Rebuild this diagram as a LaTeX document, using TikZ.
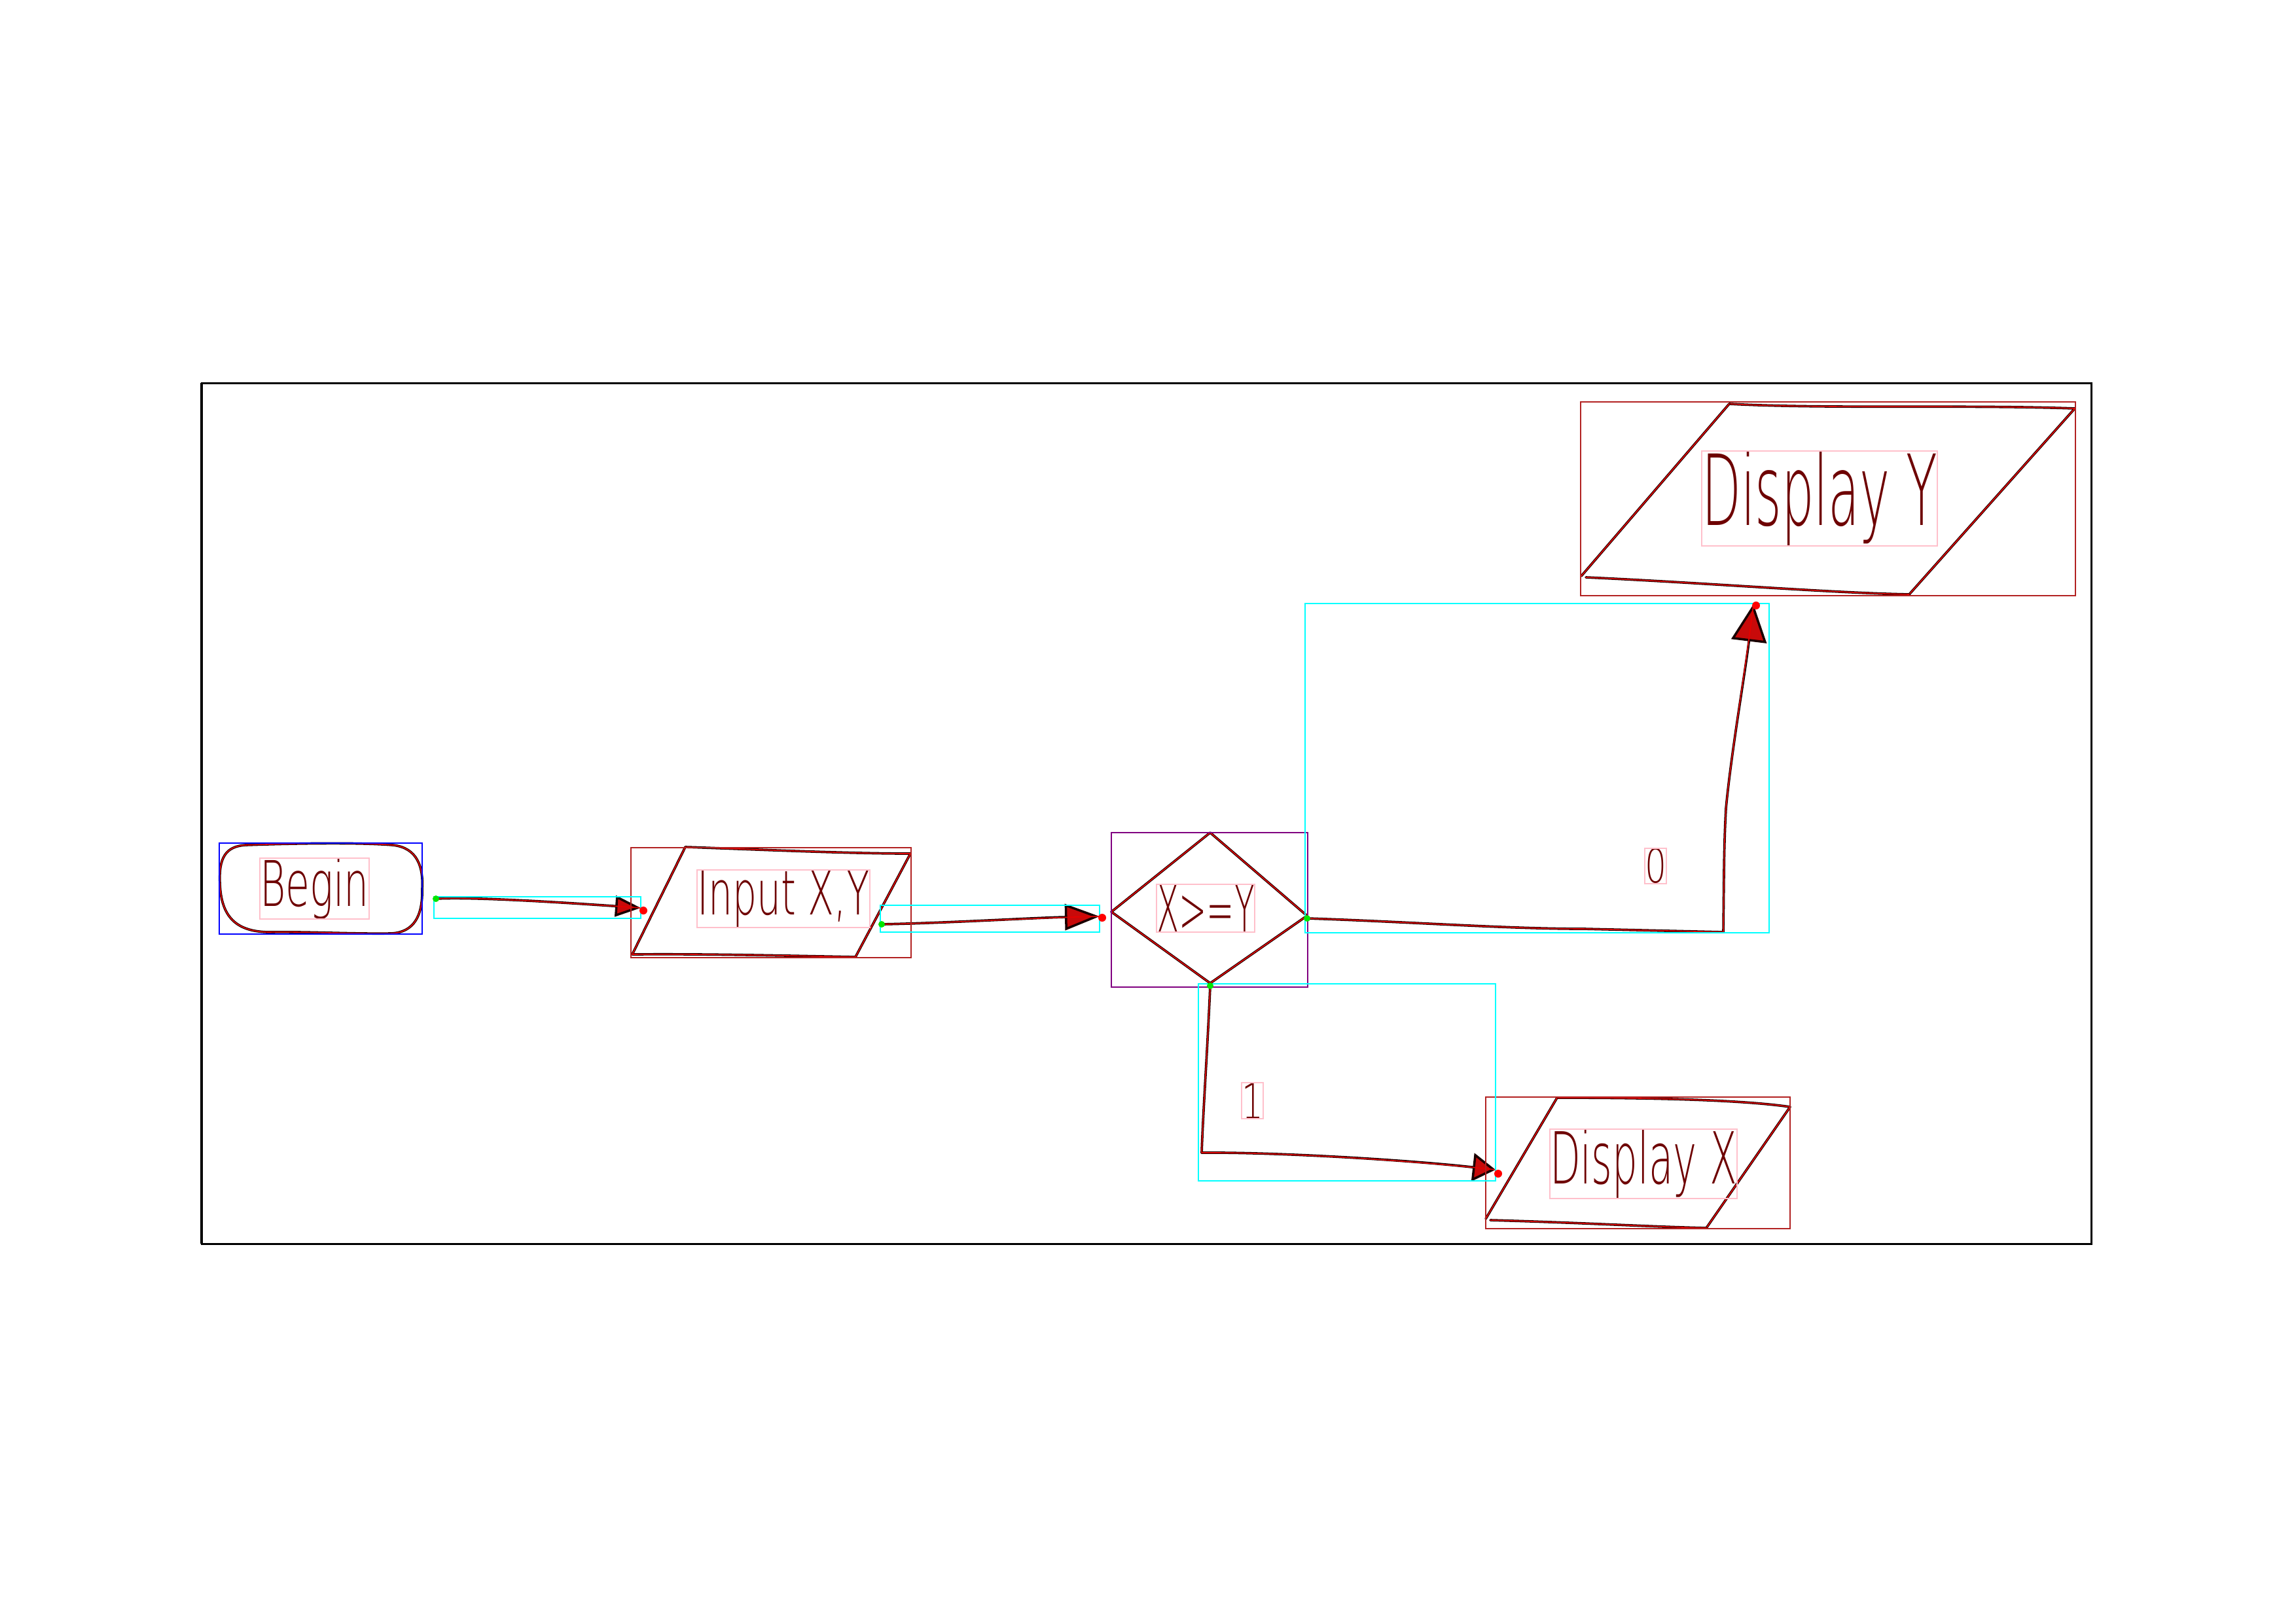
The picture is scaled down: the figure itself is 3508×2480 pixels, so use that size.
\documentclass[tikz,border=0pt]{standalone}
\usetikzlibrary{arrows.meta}
\usepackage{graphicx}
\usepackage{fontspec}
% thin monoline-like face for the handwritten labels
\IfFontExistsTF{FiraSans-Thin.otf}
  {\newfontfamily\handfont{FiraSans-Thin.otf}}
  {\IfFontExistsTF{DejaVuSans-ExtraLight.ttf}
    {\newfontfamily\handfont{DejaVuSans-ExtraLight.ttf}}
    {\newfontfamily\handfont{Fira Sans}}}
\definecolor{inkdark}{RGB}{25,0,0}
\definecolor{inkred}{RGB}{230,0,0}
\definecolor{tipfill}{RGB}{200,10,10}
\definecolor{textink}{RGB}{110,0,0}
\definecolor{boxbrown}{RGB}{178,34,34}
\definecolor{boxpink}{RGB}{255,192,203}
\definecolor{boxcyan}{RGB}{0,255,255}
\definecolor{boxblue}{RGB}{0,0,255}
\definecolor{boxpurple}{RGB}{128,0,128}
\definecolor{dotgreen}{RGB}{0,230,0}
\definecolor{dotred}{RGB}{255,0,0}
\newcommand{\handtext}[3]{\resizebox*{#1}{#2}{\handfont #3}}

\begin{document}
\begin{tikzpicture}[x=0.1mm,y=-0.1mm,
  ink/.style={draw=inkdark,line width=1.05pt,line cap=round,line join=round,
    postaction={draw=inkred,line width=0.45pt,arrows=-}},
  tipped/.style 2 args={-{Triangle[length=#1,width=#2,fill=tipfill,line width=1pt]}},
  lbl/.style={inner sep=0pt,text=textink},
  hull/.style={line width=0.4pt},
  startdot/.style={fill=dotgreen,draw=none},
  enddot/.style={fill=dotred,draw=none}]

% page extent
\useasboundingbox (0,0) rectangle (3508,2480);
\fill[white] (0,0) rectangle (3508,2480);

% outer frame
\draw[black,line width=0.85pt] (308,585) rectangle (3195,1900);
\draw[black,line width=1.3pt] (308,585) -- (308,1900);

% ---------- shapes ----------
% Begin terminator
\draw[ink] (336,1350) .. controls (334,1310) and (345,1293) .. (375,1291)
  .. controls (460,1288) and (550,1287) .. (600,1291)
  .. controls (638,1295) and (647,1325) .. (645,1358)
  .. controls (646,1400) and (632,1424) .. (598,1426)
  .. controls (540,1427) and (470,1423) .. (410,1424)
  .. controls (360,1423) and (338,1400) .. cycle;

% Input parallelogram
\draw[ink] (1047,1294) .. controls (1140,1297) and (1290,1304) .. (1391,1304)
  -- (1307,1462)
  .. controls (1200,1460) and (1080,1457) .. (966,1458) -- cycle;

% decision diamond
\draw[ink] (1849,1272) -- (1997,1399) -- (1849,1502) -- (1698,1393) -- cycle;

% Display Y parallelogram
\draw[ink] (2642,617) .. controls (2790,625) and (3000,618) .. (3170,624)
  -- (2917,908);
\draw[ink] (2423,882) .. controls (2600,890) and (2800,906) .. (2917,908);
\draw[ink] (2642,617) -- (2416,880);

% Display X parallelogram
\draw[ink] (2379,1677) .. controls (2520,1677) and (2660,1680) .. (2735,1691)
  -- (2607,1876);
\draw[ink] (2277,1864) .. controls (2420,1868) and (2520,1874) .. (2607,1876);
\draw[ink] (2379,1677) -- (2270,1862);

% ---------- texts ----------
\node[lbl] (tBegin) at (480.5,1357.5) {\handtext{16.7mm}{9.3mm}{Begin}};
\node[lbl] (tInput) at (1197,1373) {\handtext{26.4mm}{8.8mm}{Input X,Y}};
\node[lbl] (tCond)  at (1842,1387.5) {\handtext{15mm}{7.3mm}{X>=Y}};
\node[lbl] (tDispY) at (2780,761.5) {\handtext{36mm}{14.5mm}{Display Y}};
\node[lbl] (tDispX) at (2511,1778) {\handtext{28.6mm}{10.6mm}{Display X}};
\node[lbl] (tZero)  at (2529.5,1323) {\handtext{3.3mm}{5.4mm}{0}};
\node[lbl] (tOne)   at (1913.5,1681.5) {\handtext{3.3mm}{5.5mm}{1}};

% ---------- connector end points ----------
\coordinate (a1s) at (666,1373);  \coordinate (a1e) at (979,1387);
\coordinate (a2s) at (1347,1412); \coordinate (a2e) at (1680,1400);
\coordinate (a3s) at (1997,1403); \coordinate (a3c) at (2633,1424);
\coordinate (a3e) at (2679,923);
\coordinate (a4s) at (1849,1506); \coordinate (a4c) at (1836,1761);
\coordinate (a4e) at (2285,1787);

% ---------- connectors ----------
\draw[ink,tipped={3.9mm}{3.2mm}] (a1s) .. controls (720,1370) and (850,1378) .. (a1e);
\draw[ink,tipped={5.3mm}{4mm}] (a2s) .. controls (1450,1410) and (1580,1402) .. (a2e);
\draw[ink,tipped={5.7mm}{5.4mm}] (a3s) .. controls (2150,1408) and (2300,1419) .. (2420,1419)
  -- (a3c) .. controls (2634,1330) and (2634,1290) .. (2637,1235)
  .. controls (2645,1150) and (2666,1030) .. (a3e);
\draw[ink,tipped={3.5mm}{4.3mm}] (a4s) .. controls (1845,1600) and (1838,1700) .. (a4c)
  .. controls (1950,1760) and (2150,1772) .. (a4e);

% ---------- region outlines ----------
\draw[hull,boxblue] (335,1288) rectangle (645,1427);
\draw[hull,boxbrown] (964,1295) rectangle (1392,1463);
\draw[hull,boxbrown] (2415,614) rectangle (3171,910);
\draw[hull,boxbrown] (2270,1676) rectangle (2735,1877);
\draw[hull,boxpurple] (1698,1272) rectangle (1998,1508);
\draw[hull,boxcyan] (663,1370) rectangle (979,1403);
\draw[hull,boxcyan] (1345,1383) rectangle (1680,1424);
\draw[hull,boxcyan] (1994,922) rectangle (2703,1425);
\draw[hull,boxcyan] (1831,1503) rectangle (2285,1804);
\draw[hull,boxpink] (397,1311) rectangle (564,1404);
\draw[hull,boxpink] (1065,1329) rectangle (1329,1417);
\draw[hull,boxpink] (1767,1351) rectangle (1917,1424);
\draw[hull,boxpink] (2600,689) rectangle (2960,834);
\draw[hull,boxpink] (2368,1725) rectangle (2654,1831);
\draw[hull,boxpink] (2513,1296) rectangle (2546,1350);
\draw[hull,boxpink] (1897,1654) rectangle (1930,1709);

% ---------- end point markers ----------
\fill[startdot] (a1s) circle (5);
\fill[startdot] (a2s) circle (5);
\fill[startdot] (a3s) circle (5);
\fill[startdot] (a4s) circle (5);
\fill[enddot] (983,1391) circle (6);
\fill[enddot] (1684,1402) circle (6);
\fill[enddot] (2683,925) circle (6);
\fill[enddot] (2289,1793) circle (6);
\end{tikzpicture}
\end{document}
